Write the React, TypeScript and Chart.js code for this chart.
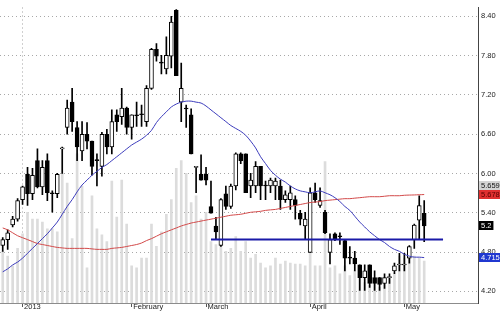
import React, { useEffect, useRef } from 'react';
import { Chart, registerables } from 'chart.js';

Chart.register(...registerables);

// ---- price data (one entry per trading day) ----
const openPrices = [
  4.900, 4.990, 5.213, 5.302, 5.600, 5.987, 5.690, 6.196, 5.794, 6.196,
  5.705, 5.690, 6.375, 6.702, 7.089, 6.702, 6.345, 6.598, 6.494, 6.211,
  6.107, 6.598, 6.404, 6.896, 6.866, 7.000, 6.702, 6.896, 6.911, 6.792,
  7.298, 7.894, 7.700, 7.596, 7.789, 8.489, 7.089, 7.000, 6.896, 6.092,
  5.987, 5.987, 5.496, 5.198, 4.900, 5.690, 5.496, 5.809, 6.300, 6.300,
  5.809, 5.809, 6.107, 5.824, 5.809, 5.809, 5.809, 5.600, 5.600, 5.600,
  5.392, 5.198, 4.796, 5.705, 5.511, 5.407, 4.796, 5.079, 5.049, 4.975,
  4.722, 4.707, 4.603, 4.409, 4.603, 4.409, 4.409, 4.320, 4.409, 4.513,
  4.603, 4.603, 4.707, 4.990, 5.288, 5.392,
];
const highPrices = [
  5.019, 5.139, 5.347, 5.615, 5.809, 6.092, 6.077, 6.375, 6.196, 6.300,
  5.734, 6.002, 6.404, 7.119, 7.298, 6.792, 6.792, 6.777, 6.494, 6.300,
  6.628, 6.673, 6.970, 6.970, 7.298, 7.015, 6.896, 7.089, 7.045, 7.343,
  7.909, 7.983, 7.804, 8.087, 8.400, 8.504, 7.685, 7.045, 6.985, 6.107,
  6.285, 6.092, 5.883, 5.332, 5.615, 5.809, 5.839, 6.315, 6.315, 6.300,
  6.002, 6.181, 6.107, 5.883, 5.928, 5.928, 5.898, 5.734, 5.809, 5.660,
  5.436, 5.407, 5.779, 5.853, 5.779, 5.436, 5.079, 5.094, 5.094, 4.990,
  4.885, 4.811, 4.603, 4.603, 4.603, 4.513, 4.409, 4.469, 4.469, 4.632,
  4.781, 4.781, 4.900, 5.228, 5.659, 5.585,
];
const lowPrices = [
  4.811, 4.841, 5.183, 5.273, 5.526, 5.511, 5.600, 5.779, 5.675, 5.585,
  5.407, 5.630, 6.002, 6.598, 6.643, 6.196, 6.196, 6.375, 5.973, 5.809,
  5.958, 6.300, 6.300, 6.643, 6.747, 6.598, 6.524, 6.717, 6.717, 6.717,
  7.283, 7.715, 7.521, 7.521, 7.611, 7.492, 6.792, 6.702, 6.300, 5.705,
  5.898, 5.824, 5.392, 5.005, 4.885, 5.451, 5.466, 5.749, 6.151, 5.705,
  5.630, 5.705, 5.600, 5.600, 5.705, 5.600, 5.451, 5.556, 5.451, 5.302,
  5.213, 4.990, 4.796, 5.556, 5.481, 5.079, 4.617, 4.975, 4.915, 4.513,
  4.617, 4.513, 4.215, 4.215, 4.260, 4.215, 4.215, 4.245, 4.320, 4.469,
  4.513, 4.513, 4.632, 4.856, 4.990, 4.960,
];
const closePrices = [
  4.990, 5.094, 5.302, 5.585, 5.794, 5.690, 5.973, 5.794, 6.092, 5.705,
  5.690, 5.987, 6.390, 7.000, 6.792, 6.404, 6.598, 6.494, 6.107, 6.196,
  6.598, 6.404, 6.792, 6.792, 7.000, 6.702, 6.896, 6.881, 6.896, 7.298,
  7.894, 7.789, 7.685, 7.804, 8.311, 7.492, 7.298, 6.985, 6.300, 6.107,
  5.898, 5.898, 5.392, 5.109, 5.600, 5.496, 5.809, 6.300, 6.196, 5.705,
  5.898, 6.107, 5.809, 5.809, 5.898, 5.883, 5.600, 5.675, 5.705, 5.511,
  5.302, 5.302, 5.705, 5.600, 5.585, 5.094, 4.990, 5.005, 5.034, 4.707,
  4.707, 4.617, 4.409, 4.513, 4.320, 4.320, 4.305, 4.409, 4.424, 4.588,
  4.618, 4.618, 4.885, 5.213, 5.511, 5.200,
];
// volume (millions)
const volumes = [
  5.3, 4.8, 3.8, 5.6, 7.1, 9.3, 8.6, 8.6, 8.3, 7.6,
  7.6, 7.3, 13.3, 12.3, 6.6, 15.3, 12.0, 3.6, 11.0, 7.6,
  7.0, 6.3, 12.5, 8.8, 12.6, 8.1, 3.8, 3.6, 4.6, 4.6,
  8.1, 5.8, 7.3, 9.1, 10.6, 13.8, 14.6, 13.3, 10.3, 11.0,
  8.6, 9.3, 6.3, 6.0, 7.0, 5.3, 5.6, 6.8, 5.3, 6.3,
  4.6, 5.0, 4.1, 3.6, 3.8, 4.6, 4.0, 4.3, 4.1, 4.0,
  4.0, 3.8, 5.3, 3.8, 3.8, 14.5, 3.6, 3.8, 3.0, 3.8,
  2.8, 3.3, 2.5, 2.1, 1.8, 2.3, 1.6, 2.1, 2.6, 3.0,
  4.8, 4.6, 5.3, 4.8, 4.6, 4.3,
];
// moving averages
const maShort = [
  4.498, 4.543, 4.603, 4.647, 4.707, 4.781, 4.856, 4.930, 5.005, 5.079,
  5.168, 5.258, 5.377, 5.496, 5.600, 5.719, 5.824, 5.898, 5.973, 6.032,
  6.092, 6.136, 6.196, 6.255, 6.315, 6.375, 6.434, 6.479, 6.524, 6.583,
  6.658, 6.777, 6.866, 6.941, 7.015, 7.060, 7.089, 7.104, 7.104, 7.089,
  7.075, 7.030, 6.970, 6.911, 6.851, 6.792, 6.732, 6.687, 6.643, 6.583,
  6.494, 6.390, 6.255, 6.151, 6.047, 5.973, 5.913, 5.868, 5.809, 5.764,
  5.734, 5.719, 5.705, 5.719, 5.734, 5.705, 5.675, 5.630, 5.571, 5.496,
  5.436, 5.347, 5.258, 5.183, 5.109, 5.049, 4.990, 4.945, 4.885, 4.841,
  4.811, 4.766, 4.737, 4.722, 4.722, 4.715,
];
const maLong = [
  5.168, 5.139, 5.094, 5.049, 5.019, 4.990, 4.960, 4.930, 4.915, 4.900,
  4.885, 4.871, 4.863, 4.856, 4.856, 4.856, 4.856, 4.856, 4.848, 4.841,
  4.841, 4.841, 4.856, 4.863, 4.871, 4.885, 4.900, 4.915, 4.938, 4.975,
  5.005, 5.042, 5.079, 5.109, 5.139, 5.168, 5.198, 5.221, 5.243, 5.258,
  5.273, 5.288, 5.302, 5.317, 5.332, 5.347, 5.362, 5.369, 5.377, 5.392,
  5.407, 5.414, 5.422, 5.436, 5.444, 5.451, 5.466, 5.481, 5.496, 5.511,
  5.526, 5.541, 5.556, 5.563, 5.571, 5.585, 5.593, 5.600, 5.608, 5.615,
  5.615, 5.623, 5.630, 5.638, 5.645, 5.645, 5.645, 5.652, 5.660, 5.660,
  5.660, 5.667, 5.670, 5.672, 5.675, 5.678,
];

// ---- axes ----
const monthTickIndex = [4, 26, 41, 62, 81];
const monthTickLabels = ['2013', 'February', 'March', 'April', 'May'];
const priceTicks = [4.2, 4.8, 5.4, 6.0, 6.6, 7.2, 7.8, 8.4];
const xRange = [-0.55, 95.85];
const priceRange = [4.022, 8.534];
const volumeMax = 30.3;

// ---- horizontal support line ----
const supportLevel = 4.99;
const supportFromIndex = 42;
const supportToIndex = 88.8;

// ---- value tags on the right axis ----
const tagValues = [5.678, 5.2, 4.715, 5.659];
const tagBackgrounds = ['#e03030', '#000000', '#2038d0', '#d4d4d4'];
const tagTextColors = ['#5a0000', '#ffffff', '#ffffff', '#111111'];

const FONT = '"Liberation Sans", Arial, sans-serif';

const tagPlugin = {
  id: 'valueTags',
  afterDraw(chart: any) {
    const { ctx, chartArea } = chart;
    const y = chart.scales.y;
    ctx.save();
    ctx.font = `7.5px ${FONT}`;
    ctx.textBaseline = 'middle';
    const h = 9;
    const placed: number[] = [];
    tagValues.forEach((v, i) => {
      let yy = y.getPixelForValue(v);
      for (const p of placed) {
        if (Math.abs(p - yy) < h) yy = p - h;
      }
      placed.push(yy);
      const text = String(v);
      const w = ctx.measureText(text).width + 4;
      ctx.fillStyle = tagBackgrounds[i];
      ctx.fillRect(chartArea.right + 1, Math.round(yy - h / 2), w, h);
      ctx.fillStyle = tagTextColors[i];
      ctx.textAlign = 'left';
      ctx.fillText(text, chartArea.right + 3, Math.round(yy - h / 2) + h / 2 + 0.5);
    });
    ctx.restore();
  },
};

export default function App() {
  const ref = useRef<HTMLCanvasElement>(null);

  useEffect(() => {
    document.body.style.margin = '0';
    const canvas = ref.current!;
    const idx = closePrices.map((_, i) => i);
    const up = idx.map((i) => closePrices[i] >= openPrices[i]);

    const chart = new Chart(canvas, {
      type: 'bar',
      data: {
        datasets: [
          {
            type: 'line',
            label: 'Support',
            data: [
              { x: supportFromIndex, y: supportLevel },
              { x: supportToIndex, y: supportLevel },
            ],
            borderColor: '#1a1aa8',
            borderWidth: 2,
            pointRadius: 0,
            yAxisID: 'y',
            order: 1,
          } as any,
          {
            type: 'line',
            label: 'MA short',
            data: idx.map((i) => ({ x: i, y: maShort[i] })),
            borderColor: '#3c3cbc',
            borderWidth: 1,
            pointRadius: 0,
            tension: 0.3,
            yAxisID: 'y',
            order: 2,
          } as any,
          {
            type: 'line',
            label: 'MA long',
            data: idx.map((i) => ({ x: i, y: maLong[i] })),
            borderColor: '#d24848',
            borderWidth: 1,
            pointRadius: 0,
            tension: 0.3,
            yAxisID: 'y',
            order: 3,
          } as any,
          {
            type: 'bar',
            label: 'Body',
            data: idx.map((i) => ({
              x: i,
              y: [Math.min(openPrices[i], closePrices[i]), Math.max(openPrices[i], closePrices[i])],
            })),
            backgroundColor: idx.map((i) => (up[i] ? '#ffffff' : '#000000')),
            borderColor: '#000000',
            borderWidth: 1,
            borderSkipped: false,
            barThickness: 4,
            grouped: false,
            yAxisID: 'y',
            order: 4,
          } as any,
          {
            type: 'bar',
            label: 'Wick',
            data: idx.map((i) => ({ x: i, y: [lowPrices[i], highPrices[i]] })),
            backgroundColor: '#000000',
            borderWidth: 0,
            barThickness: 1,
            grouped: false,
            yAxisID: 'y',
            order: 5,
          } as any,
          {
            type: 'bar',
            label: 'Volume',
            data: idx.map((i) => ({ x: i, y: volumes[i] })),
            backgroundColor: '#dcdcdc',
            borderWidth: 0,
            barThickness: 2,
            grouped: false,
            yAxisID: 'yv',
            order: 10,
          } as any,
        ],
      },
      options: {
        responsive: false,
        animation: false,
        events: [],
        layout: { padding: 0 },
        plugins: { legend: { display: false }, tooltip: { enabled: false } },
        scales: {
          x: {
            type: 'linear',
            min: xRange[0],
            max: xRange[1],
            bounds: 'data',
            offset: false,
            grace: 0,
            afterFit: (s: any) => {
              s.height = 9;
            },
            afterBuildTicks: (s: any) => {
              s.ticks = monthTickIndex.map((v) => ({ value: v }));
            },
            ticks: {
              callback: (v: any) => {
                const k = monthTickIndex.indexOf(Number(v));
                return k >= 0 ? monthTickLabels[k] : '';
              },
              align: 'start',
              labelOffset: 1.5,
              padding: -5,
              maxRotation: 0,
              autoSkip: false,
              color: '#222',
              font: { family: FONT, size: 7.5 },
            },
            grid: {
              offset: false,
              color: (c: any) => (c.index === 0 ? '#a0a0a0' : 'rgba(0,0,0,0)'),
              tickColor: '#555',
              tickLength: 4,
              lineWidth: 1,
            },
            border: { color: '#8c8c8c', dash: [1, 3] },
          } as any,
          y: {
            type: 'linear',
            position: 'right',
            min: priceRange[0],
            max: priceRange[1],
            bounds: 'data',
            afterFit: (s: any) => {
              s.width = 22;
            },
            afterBuildTicks: (s: any) => {
              s.ticks = priceTicks.map((v) => ({ value: v }));
            },
            ticks: {
              callback: (v: any) => Number(v).toFixed(2),
              padding: 3,
              color: '#222',
              font: { family: FONT, size: 7.5 },
            },
            grid: { color: '#a8a8a8', drawTicks: false, lineWidth: 1 },
            border: { color: '#444', dash: [1, 3] },
          } as any,
          yv: { type: 'linear', display: false, min: 0, max: volumeMax } as any,
        },
      },
      plugins: [tagPlugin],
    } as any);

    return () => chart.destroy();
  }, []);

  return (
    <div style={{ position: 'absolute', left: 0, top: 0, width: 500, height: 312, background: '#fff' }}>
      <canvas ref={ref} width={500} height={312} style={{ display: 'block', width: 500, height: 312 }} />
    </div>
  );
}
